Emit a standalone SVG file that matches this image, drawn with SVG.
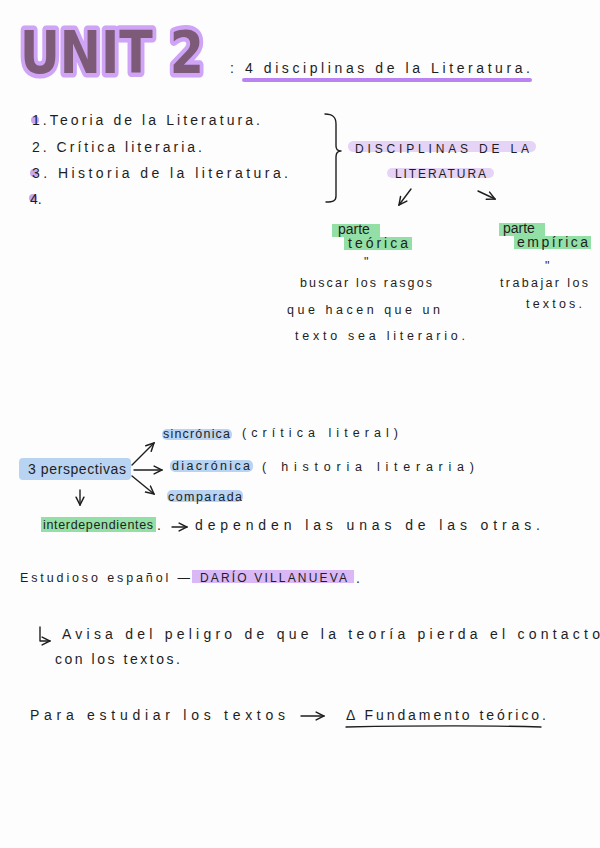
<svg xmlns="http://www.w3.org/2000/svg" width="600" height="848" viewBox="0 0 600 848">
<defs>
<style>
.t{font-family:"Liberation Sans","DejaVu Sans",sans-serif;font-size:14px;fill:#1e1e1e;}
.s{font-size:12.5px;}
.caps{font-size:12px;letter-spacing:1px;}
.hlp{fill:#e6d4f7;}
.hlP{fill:#d9b8f5;}
.hlg{fill:#93e0a6;}
.hlb{fill:#b9d4f2;}
.ln{stroke:#1e1e1e;stroke-width:1.4;fill:none;stroke-linecap:round;stroke-linejoin:round;}
.dot{fill:#c9a6ee;}
</style>
<marker id="ah" viewBox="0 0 10 10" refX="9" refY="5" markerWidth="7" markerHeight="7" orient="auto">
<path d="M1,1 L9,5 L1,9" fill="none" stroke="#1e1e1e" stroke-width="1.5" stroke-linecap="round"/>
</marker>
</defs>
<rect width="600" height="848" fill="#fdfdfd"/>

<g id="title">
<text x="20" y="73" font-family="DejaVu Sans, sans-serif" font-weight="bold" font-size="58" fill="#7d5b78" stroke="#cfa3f6" stroke-width="9" stroke-linejoin="round" paint-order="stroke" textLength="184" lengthAdjust="spacingAndGlyphs">UNIT 2</text>
<rect x="242" y="78" width="290" height="4" rx="2" fill="#b983f2"/>
<text class="t" x="230" y="73" font-size="16" textLength="300" lengthAdjust="spacing">: 4 disciplinas de la Literatura.</text>
</g>

<g id="list">
<circle class="dot" cx="35" cy="120" r="4"/>
<circle class="dot" cx="34" cy="173" r="4"/>
<circle class="dot" cx="33" cy="198" r="4"/>
<text class="t" x="32" y="125" textLength="228" lengthAdjust="spacing">1.Teoria de la Literatura.</text>
<text class="t" x="32" y="152" textLength="170" lengthAdjust="spacing">2. Crítica literaria.</text>
<text class="t" x="32" y="178" textLength="256" lengthAdjust="spacing">3. Historia de la literatura.</text>
<text class="t" x="30" y="204">4.</text>
</g>

<g id="brace">
<path class="ln" d="M325,114 C333,114 336,117 336,124 L336,146 C336,150 338,151 341,151 C338,151 336,153 336,157 L336,196 C336,201 333,202 326,202"/>
</g>

<g id="disciplinas">
<rect class="hlp" x="348" y="141" width="188" height="11" rx="5.5"/>
<rect class="hlp" x="387" y="168" width="107" height="10" rx="5"/>
<text class="t caps" x="355" y="153" textLength="175" lengthAdjust="spacing">DISCIPLINAS DE LA</text>
<text class="t caps" x="395" y="178" textLength="92" lengthAdjust="spacing">LITERATURA</text>
</g>

<g id="teorica">
<rect class="hlg" x="332" y="224" width="48" height="13"/>
<rect class="hlg" x="344" y="237" width="68" height="13"/>
<text class="t" x="338" y="234">parte</text>
<text class="t" x="348" y="248" textLength="60" lengthAdjust="spacing">teórica</text>
<text class="t s" x="364" y="266">"</text>
<text class="t s" x="300" y="287" textLength="132" lengthAdjust="spacing">buscar los rasgos</text>
<text class="t s" x="287" y="314" textLength="153" lengthAdjust="spacing">que hacen que un</text>
<text class="t s" x="295" y="340" textLength="170" lengthAdjust="spacing">texto sea literario.</text>
</g>

<g id="empirica">
<rect class="hlg" x="499" y="223" width="46" height="13"/>
<rect class="hlg" x="514" y="236" width="77" height="13"/>
<text class="t" x="503" y="233">parte</text>
<text class="t" x="517" y="247" textLength="71" lengthAdjust="spacing">empírica</text>
<text class="t s" x="545" y="270">"</text>
<text class="t s" x="500" y="287" textLength="88" lengthAdjust="spacing">trabajar los</text>
<text class="t s" x="526" y="308" textLength="56" lengthAdjust="spacing">textos.</text>
</g>

<g id="perspectivas">
<rect class="hlb" x="19" y="458" width="112" height="22" rx="4"/>
<text class="t" x="28" y="474" textLength="98" lengthAdjust="spacing">3 perspectivas</text>
</g>

<g id="sincronica">
<rect class="hlb" x="162" y="429" width="70" height="11" rx="5"/>
<text class="t s" x="163" y="438" textLength="67" lengthAdjust="spacing">sincrónica</text>
<text class="t s" x="242" y="437" textLength="156" lengthAdjust="spacing">(crítica literal)</text>
</g>

<g id="diacronica">
<rect class="hlb" x="170" y="460" width="83" height="12" rx="5"/>
<text class="t s" x="172" y="470" textLength="78" lengthAdjust="spacing">diacrónica</text>
<text class="t s" x="262" y="471" textLength="212" lengthAdjust="spacing">( historia literaria)</text>
</g>

<g id="comparada">
<rect class="hlb" x="167" y="490" width="76" height="12" rx="5"/>
<text class="t s" x="168" y="501" textLength="74" lengthAdjust="spacing">comparada</text>
</g>

<g id="interdependientes">
<rect class="hlg" x="41" y="517" width="115" height="15"/>
<text class="t s" x="43" y="529" textLength="110" lengthAdjust="spacing">interdependientes</text>
<text class="t" x="157" y="530">.</text>
<text class="t" x="195" y="530" textLength="345" lengthAdjust="spacing">dependen las unas de las otras.</text>
</g>

<g id="connectors">
<line class="ln" x1="411" y1="189" x2="399" y2="205" marker-end="url(#ah)"/>
<line class="ln" x1="478" y1="191" x2="495" y2="199" marker-end="url(#ah)"/>
<line class="ln" x1="132" y1="465" x2="154" y2="443" marker-end="url(#ah)"/>
<line class="ln" x1="134" y1="470" x2="162" y2="470" marker-end="url(#ah)"/>
<line class="ln" x1="132" y1="476" x2="154" y2="494" marker-end="url(#ah)"/>
<line class="ln" x1="80" y1="490" x2="80" y2="505" marker-end="url(#ah)"/>
<line class="ln" x1="172" y1="527" x2="187" y2="527" marker-end="url(#ah)"/>
<line class="ln" x1="301" y1="716" x2="324" y2="716" marker-end="url(#ah)"/>
<path class="ln" d="M40,627 L40,641 L50,641" marker-end="url(#ah)"/>
</g>

<g id="villanueva">
<rect class="hlP" x="192" y="570" width="162" height="13"/>
<text class="t s" x="20" y="582" textLength="170" lengthAdjust="spacing">Estudioso español —</text>
<text class="t caps" x="200" y="582" textLength="148" lengthAdjust="spacing">DARÍO VILLANUEVA</text>
<text class="t" x="356" y="583">.</text>
</g>

<g id="avisa">
<text class="t" x="62" y="639" textLength="538" lengthAdjust="spacing">Avisa del peligro de que la teoría pierda el contacto</text>
<text class="t" x="55" y="664" textLength="125" lengthAdjust="spacing">con los textos.</text>
</g>

<g id="para">
<text class="t" x="30" y="720" textLength="255" lengthAdjust="spacing">Para estudiar los textos</text>
<text class="t" x="346" y="720" textLength="200" lengthAdjust="spacing">Δ Fundamento teórico.</text>
<path class="ln" d="M346,727 C400,726 470,725 541,727"/>
</g>
</svg>
